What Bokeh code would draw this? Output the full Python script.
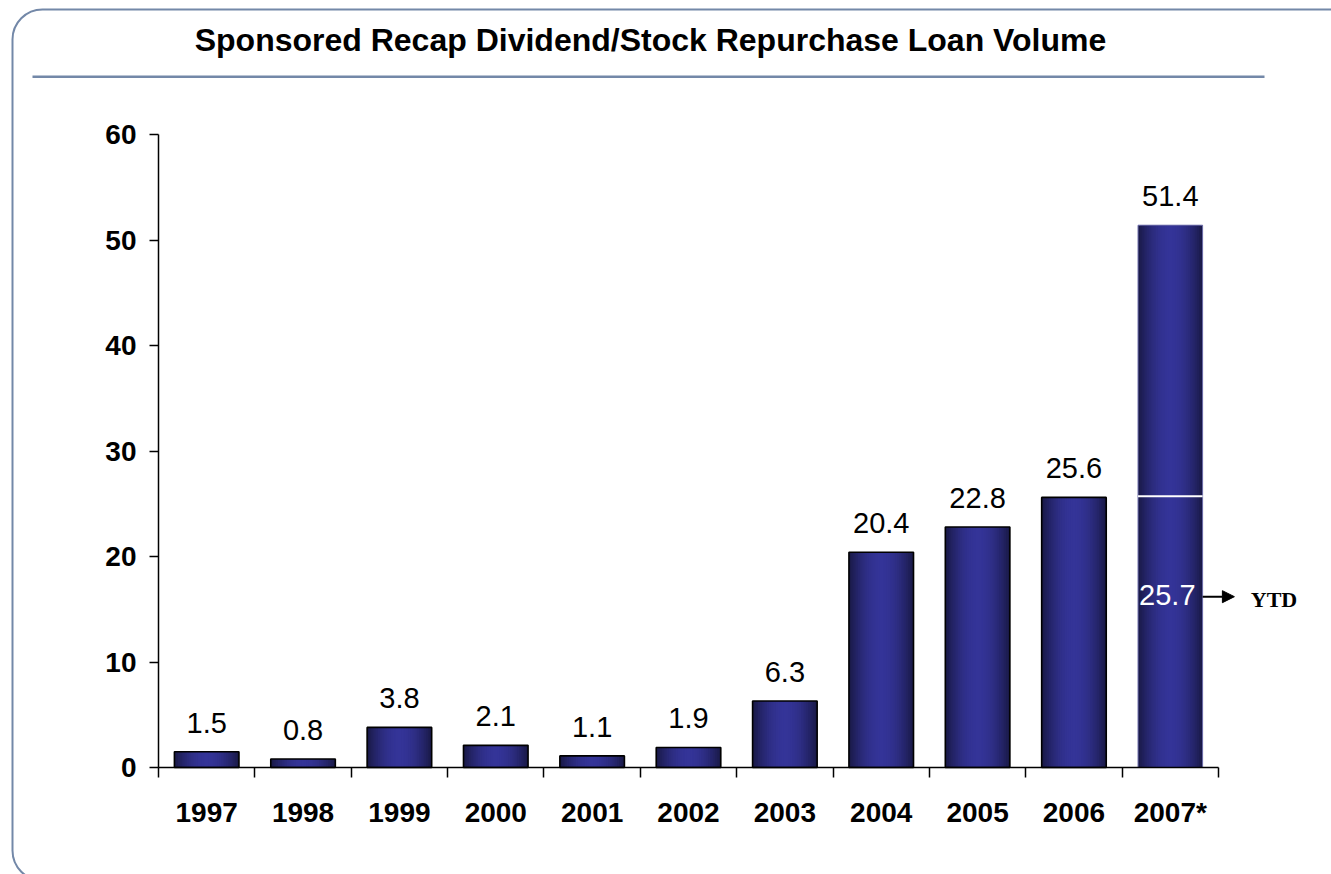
from bokeh.plotting import figure
from bokeh.models import FixedTicker, BoxAnnotation, Arrow, NormalHead, ColumnDataSource
from bokeh.core.properties import value
from bokeh.embed import file_html
from bokeh.resources import INLINE

# ---------------- data ----------------
years = ["1997", "1998", "1999", "2000", "2001", "2002", "2003", "2004", "2005", "2006", "2007*"]
volumes = [1.5, 0.8, 3.8, 2.1, 1.1, 1.9, 6.3, 20.4, 22.8, 25.6, 51.4]
ytd_value = 25.7
y_ticks = [0, 10, 20, 30, 40, 50, 60]
title_text = "Sponsored Recap Dividend/Stock Repurchase Loan Volume"
ytd_text = "YTD"

# ---------------- layout (pixels) ----------------
W, H = 1331, 874
n = len(years)
AX_LEFT, AX_RIGHT, AX_TOP, AX_BOTTOM = 158, 1218, 134, 767
px_x = (AX_RIGHT - AX_LEFT) / n
px_y = (AX_BOTTOM - AX_TOP) / y_ticks[-1]


def dx(sx):
    return (sx - AX_LEFT) / px_x


def dy(sy):
    return (AX_BOTTOM - sy) / px_y


p = figure(width=W, height=H, x_range=(dx(0), dx(W)), y_range=(dy(H), dy(0)),
           output_backend="svg", toolbar_location=None,
           min_border_left=0, min_border_right=0, min_border_top=0, min_border_bottom=0,
           background_fill_color="white", border_fill_color="white", outline_line_color=None)
p.grid.visible = False

FONT = "Liberation Sans"
centers = [i + 0.5 for i in range(n)]

# axes (fixed inside the frame)
ya = p.yaxis[0]
ya.fixed_location = 0
ya.bounds = (0, y_ticks[-1])
ya.ticker = FixedTicker(ticks=y_ticks, minor_ticks=[])
ya.major_tick_out = 9
ya.major_tick_in = 0
ya.major_tick_line_color = "black"
ya.major_tick_line_width = 1.5
ya.axis_line_color = "black"
ya.axis_line_width = 1.5
ya.major_label_text_font = FONT
ya.major_label_text_font_style = "bold"
ya.major_label_text_font_size = "28px"
ya.major_label_text_color = "black"
ya.major_label_standoff = 13

xa = p.xaxis[0]
xa.fixed_location = 0
xa.bounds = (0, n)
xa.ticker = FixedTicker(ticks=centers, minor_ticks=list(range(n + 1)))
xa.major_label_overrides = {c: y for c, y in zip(centers, years)}
xa.major_tick_out = 0
xa.major_tick_in = 0
xa.minor_tick_out = 10
xa.minor_tick_in = 0
xa.minor_tick_line_color = "black"
xa.minor_tick_line_width = 1.5
xa.axis_line_color = "black"
xa.axis_line_width = 1.5
xa.major_label_text_font = FONT
xa.major_label_text_font_style = "bold"
xa.major_label_text_font_size = "28px"
xa.major_label_text_color = "black"
xa.major_label_standoff = 19

# gradient bars (layered vbars)
edge = (26, 26, 72)
mid = (52, 52, 152)
N = 18
bar_w = 0.67
for k in range(N):
    s = 1 - k / N
    t = 1 - s ** 2
    col = "#%02x%02x%02x" % tuple(int(round(e + (c - e) * t)) for e, c in zip(edge, mid))
    p.vbar(x=centers, top=volumes, bottom=0, width=bar_w * s, fill_color=col, line_color=None)

outline_cols = ["black"] * (n - 1) + ["#6a6aa8"]
outline_w = [1.6] * (n - 1) + [1.0]
src_out = ColumnDataSource(dict(x=centers, top=volumes, lc=outline_cols, lw=outline_w))
p.vbar(x="x", top="top", bottom=0, width=bar_w, fill_color=None, line_color="lc", line_width="lw", source=src_out)

# YTD separator in last bar
last_x = centers[-1]
p.segment(x0=[last_x - bar_w / 2], x1=[last_x + bar_w / 2], y0=[ytd_value], y1=[ytd_value],
          line_color="white", line_width=2)

# value labels
p.text(x=centers, y=volumes, text=["%.1f" % v for v in volumes],
       text_align="center", text_baseline="bottom", y_offset=-19,
       text_font=value(FONT), text_font_size="29px", text_color="black")

# YTD label inside last bar
ytd_y = ytd_value * 0.63
p.text(x=[last_x], y=[ytd_y], text=["%.1f" % ytd_value], text_align="center", text_baseline="middle",
       x_offset=-3, y_offset=-2,
       text_font=value(FONT), text_font_size="29px", text_color="white")
arrow_x0 = last_x + bar_w / 2
p.add_layout(Arrow(end=NormalHead(size=12, fill_color="black", line_color="black"),
                   x_start=arrow_x0, y_start=ytd_y, x_end=arrow_x0 + 0.33, y_end=ytd_y,
                   line_color="black", line_width=2))
p.text(x=[arrow_x0 + 0.5], y=[ytd_y], text=[ytd_text], text_align="left", text_baseline="middle",
       y_offset=3,
       text_font=value("Liberation Serif"), text_font_style="bold", text_font_size="22px", text_color="black")

# title
p.text(x=[dx(650)], y=[dy(39)], text=[title_text], text_align="center",
       text_baseline="middle", text_font=value(FONT), text_font_style="bold",
       text_font_size="32px", text_color="black")

# title underline and outer rounded border
p.add_layout(BoxAnnotation(left=dx(32), right=dx(1264), top=dy(75), bottom=dy(77.5),
                           fill_color="#7388a8", fill_alpha=1, line_color=None))
p.add_layout(BoxAnnotation(left=dx(12), right=dx(1400), top=dy(9), bottom=dy(880),
                           fill_color=None, fill_alpha=0, line_color="#7388a8", line_width=2,
                           line_alpha=1, border_radius=30))

open("out.html", "w").write(file_html(p, INLINE))
